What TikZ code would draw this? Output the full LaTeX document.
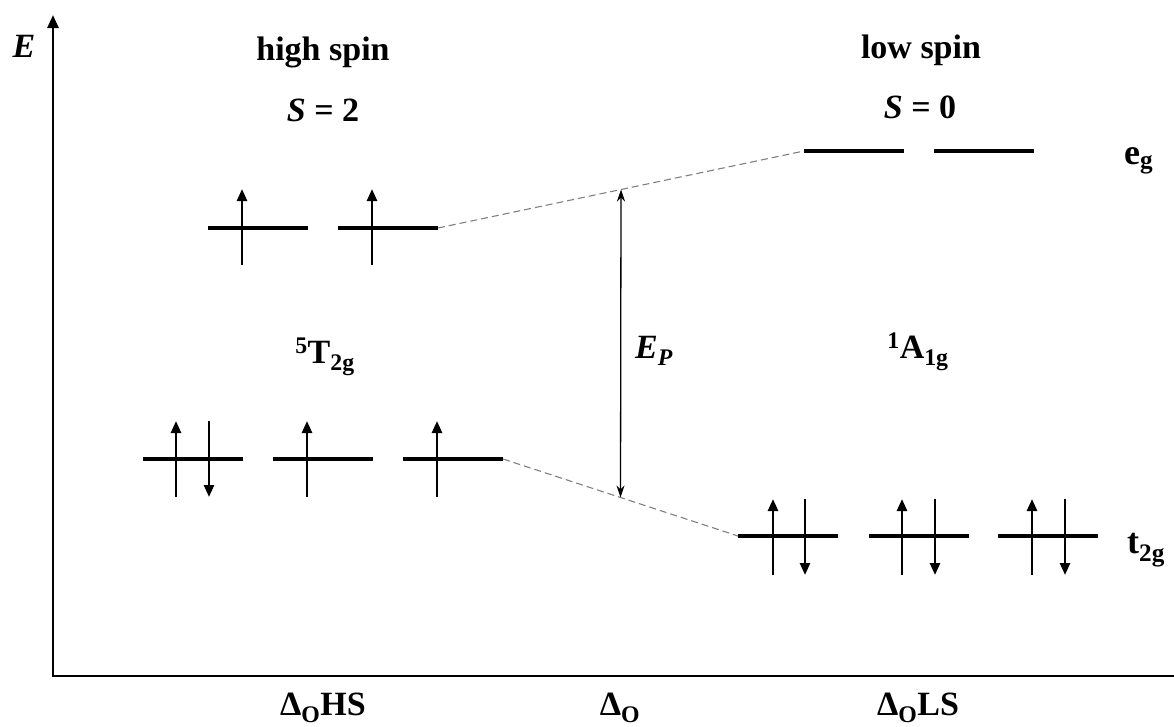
\documentclass[tikz,border=0pt]{standalone}
\usepackage{fontspec}
\setmainfont{Liberation Serif}
\usetikzlibrary{arrows.meta,calc}
\begin{document}
\begin{tikzpicture}[x=1pt,y=-1pt,
  level/.style={fill=black,minimum width=100pt,minimum height=4.5pt,inner sep=0pt,outer sep=0pt},
  spin/.style={line width=2.5pt,-{Triangle[length=12pt,width=10pt]}},
  axis/.style={line width=2.6pt,-{Triangle[length=13pt,width=11pt]}},
  guide/.style={gray,line width=1.1pt,dash pattern=on 7pt off 4pt},
  gap/.style={line width=1.3pt,{Stealth[length=12pt,width=8pt]}-{Stealth[length=12pt,width=8pt]}},
  big/.style={font=\fontsize{34}{38}\selectfont\bfseries,inner sep=0pt,anchor=base},
  mid/.style={font=\fontsize{36}{40}\selectfont\bfseries,inner sep=0pt,anchor=base}]
\useasboundingbox (0,0) rectangle (1174,726);
\clip (0,0) rectangle (1174,726);
% axes
\coordinate (origin) at (53,676);
\coordinate (ytop) at (53,15);
\coordinate (xend) at (1188,676);
\draw[axis] (origin) -- (ytop);
\draw[axis] ([xshift=-1.3pt]origin) -- (xend);
% high-spin levels
\node[level] (hse1) at (258,228) {};
\node[level] (hse2) at (388,228) {};
\node[level] (hst1) at (193,459) {};
\node[level] (hst2) at (323,459) {};
\node[level] (hst3) at (453,459) {};
% low-spin levels
\node[level] (lse1) at (854,151) {};
\node[level] (lse2) at (984,151) {};
\node[level] (lst1) at (788,536) {};
\node[level] (lst2) at (919,536) {};
\node[level] (lst3) at (1048,536) {};
% spins
\draw[spin] (242,265) -- (242,189);
\draw[spin] (372,265) -- (372,189);
\draw[spin] (176,497) -- (176,421);
\draw[spin] (209,421) -- (209,497);
\draw[spin] (307,497) -- (307,421);
\draw[spin] (437,497) -- (437,421);
\draw[spin] (773,575) -- (773,499);
\draw[spin] (805,499) -- (805,575);
\draw[spin] (902,575) -- (902,499);
\draw[spin] (935,499) -- (935,575);
\draw[spin] (1032,575) -- (1032,499);
\draw[spin] (1065,499) -- (1065,575);
% correlation lines
\draw[guide] (hse2.east) -- (lse1.west);
\draw[guide] (hst3.east) -- (lst1.west);
\coordinate (eptop) at ($(hse2.east)!0.5!(lse1.west)$);
\coordinate (epbot) at ($(hst3.east)!0.5!(lst1.west)$);
\draw[gap] (eptop) -- (epbot);
% labels
\node[big] (elab) at (24,57) {\textit{E}};
\node[big] (hs) at (323,60) {high spin};
\node[big] (s2) at (323,121) {\textit{S} = 2};
\node[big] (ls) at (921,58) {low spin};
\node[big] (s0) at (920,118) {\textit{S} = 0};
\node[mid,anchor=base west] (eg) at (1124,164) {e\textsubscript{g}};
\node[mid,anchor=base west] (t2g) at (1127,553) {t\textsubscript{2g}};
\node[big] (t2gterm) at (325,363) {\textsuperscript{5}T\textsubscript{2g}};
\node[big] (a1gterm) at (918,358) {\textsuperscript{1}A\textsubscript{1g}};
\node[big,anchor=base west] (ep) at (635,358) {\textit{E\textsubscript{P}}};
\node[big] (dhs) at (323,715) {Δ\textsubscript{O}HS};
\node[big] (d0) at (620,715) {Δ\textsubscript{O}};
\node[big] (dls) at (918,715) {Δ\textsubscript{O}LS};
\end{tikzpicture}
\end{document}
